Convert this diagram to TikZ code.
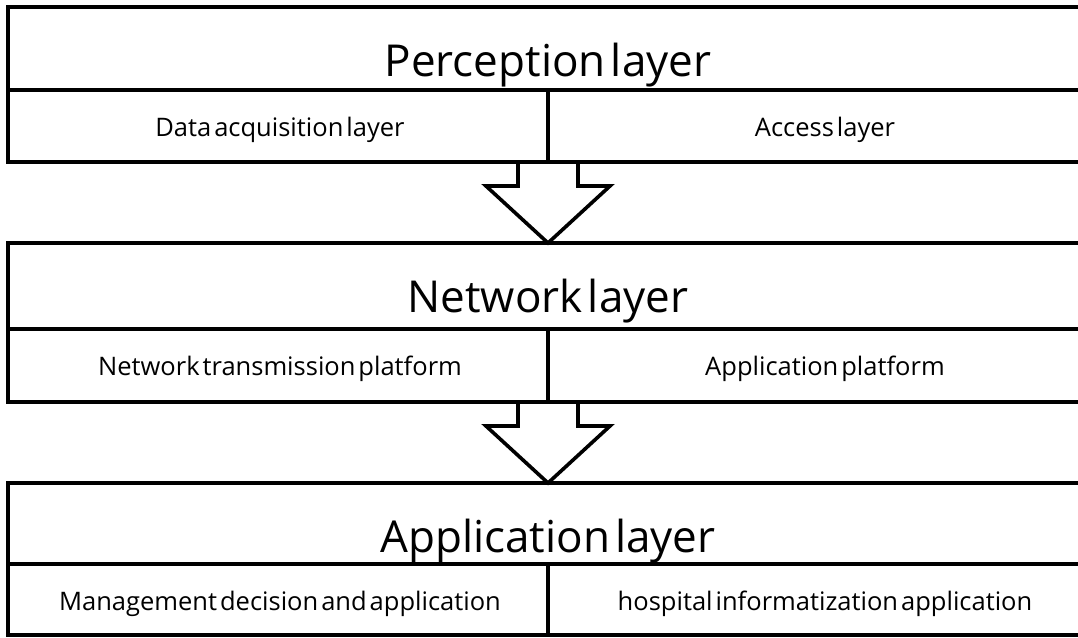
\documentclass[tikz,border=0pt]{standalone}
\usepackage{fontspec}
\setmainfont{Open Sans}[WordSpace=0.45]
\usepackage{tikz}
\newcommand{\xl}{8}
\newcommand{\xm}{548}
\newcommand{\xr}{1100}
\tikzset{
  frame/.style={draw=black, line width=3.6pt},
  title/.style={anchor=base, inner sep=0pt, font=\fontsize{44}{48}\selectfont},
  cell/.style={anchor=base, inner sep=0pt, font=\fontsize{25.5}{29}\selectfont},
}
% #1 name, #2 top, #3 split, #4 bottom, #5 title, #6 left cell, #7 right cell
\newcommand{\layerbox}[7]{%
  \draw[frame] (\xl,#2) rectangle (\xr,#4);
  \draw[frame] (\xl,#3) -- (\xr,#3);
  \draw[frame] (\xm,#3) -- (\xm,#4);
  \coordinate (#1-t) at (\xm,#2);
  \coordinate (#1-b) at (\xm,#4);
  \node[title] (#1) at (\xm,#2+69) {#5};
  \node[cell] (#1-l) at (280,#3+46) {#6};
  \node[cell] (#1-r) at (825,#3+46) {#7};
}
% block arrow from the bottom of one box to the top of the next
\newcommand{\blockarrow}[2]{%
  \draw[frame, line join=miter] (#1) ++(-30,0) -- ++(0,24) -- ++(-32,0)
    -- (#2) -- ($(#1)+(62,24)$) -- ++(-32,0) -- ++(0,-24);
}
\usetikzlibrary{calc}

\begin{document}
\begin{tikzpicture}[x=1pt, y=-1pt]
    \useasboundingbox (0,0) rectangle (1078,637);
    \layerbox{perc}{7}{90}{162}{Perception layer}{Data acquisition layer}{Access layer}
    \layerbox{net}{243}{329}{402}{Network layer}{Network transmission platform}{Application platform}
    \layerbox{app}{483}{564}{635}{Application layer}{Management decision and application}{hospital informatization application}
    \blockarrow{perc-b}{net-t}
    \blockarrow{net-b}{app-t}
\end{tikzpicture}
\end{document}
